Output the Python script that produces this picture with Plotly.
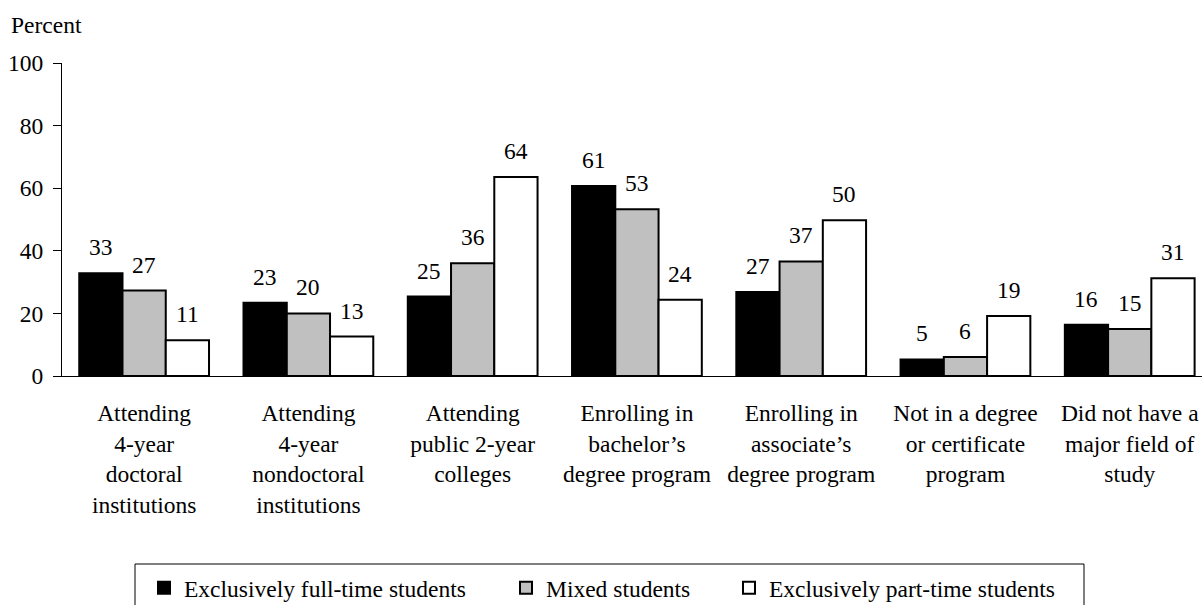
import plotly.graph_objects as go

categories = [
    "Attending<br>4-year<br>doctoral<br>institutions",
    "Attending<br>4-year<br>nondoctoral<br>institutions",
    "Attending<br>public 2-year<br>colleges",
    "Enrolling in<br>bachelor’s<br>degree program",
    "Enrolling in<br>associate’s<br>degree program",
    "Not in a degree<br>or certificate<br>program",
    "Did not have a<br>major field of<br>study",
]
series_names = [
    "Exclusively full-time students",
    "Mixed students",
    "Exclusively part-time students",
]
full_time = [32.8, 23.4, 25.4, 60.7, 26.8, 5.3, 16.4]
mixed = [27.3, 20.0, 36.0, 53.3, 36.6, 6.1, 15.0]
part_time = [11.4, 12.6, 63.6, 24.4, 49.8, 19.2, 31.2]
y_ticks = [0, 20, 40, 60, 80, 100]

FONT = "Liberation Serif, Times New Roman, serif"
FS = 23.5
colors = ["#000000", "#C0C0C0", "#FFFFFF"]
legend_widths = [317, 178, 300]
bargap = 0.21

W, H = 1202, 605
ML, MR, MT, MB = 62, 0, 63, 229
PW, PH = W - ML - MR, H - MT - MB

def px_x(px):
    return (px - ML) / PW

def px_y(py):
    return (H - MB - py) / PH

x_idx = list(range(len(categories)))
series = [full_time, mixed, part_time]

fig = go.Figure()
for name, vals, col, lw in zip(series_names, series, colors, legend_widths):
    fig.add_trace(go.Bar(
        x=x_idx, y=vals, name=name,
        marker=dict(color=col, line=dict(color="#000000", width=2)),
        legendwidth=lw,
        hoverinfo="skip",
    ))

bw = (1 - bargap) / len(series)
annotations = []
for j, vals in enumerate(series):
    for i, v in enumerate(vals):
        annotations.append(dict(
            x=i + (j - 1) * bw, y=v, xref="x", yref="y",
            text=f"{v:.0f}", showarrow=False,
            yanchor="middle", xanchor="center", yshift=26,
            font=dict(family=FONT, size=FS, color="#000000"),
        ))
annotations.append(dict(
    x=px_x(9), y=px_y(25), xref="paper", yref="paper", xanchor="left", yanchor="middle",
    text="Percent", showarrow=False,
    font=dict(family=FONT, size=FS, color="#000000"),
))

shapes = [dict(
    type="rect", xref="paper", yref="paper",
    x0=px_x(135), x1=px_x(1084), y0=px_y(564), y1=px_y(625),
    line=dict(color="#000000", width=1), fillcolor="rgba(0,0,0,0)", layer="below",
)]

fig.update_layout(
    width=W, height=H,
    margin=dict(l=ML, r=MR, t=MT, b=MB, pad=0, autoexpand=False),
    paper_bgcolor="#FFFFFF", plot_bgcolor="#FFFFFF",
    barmode="group", bargap=bargap, bargroupgap=0,
    font=dict(family=FONT, size=FS, color="#000000"),
    showlegend=True,
    legend=dict(
        orientation="h", x=px_x(144), xanchor="left", y=px_y(566), yanchor="top",
        borderwidth=0, bgcolor="rgba(0,0,0,0)",
        font=dict(family=FONT, size=FS, color="#000000"),
        entrywidthmode="pixels", traceorder="normal",
    ),
    annotations=annotations,
    shapes=shapes,
    xaxis=dict(
        range=[-0.5, 6.44], tickmode="array", tickvals=x_idx, ticktext=categories,
        showline=True, linecolor="#000000", linewidth=1, ticks="",
        showgrid=False, zeroline=False, tickangle=0, automargin=False,
        ticklabelstandoff=16,
        tickfont=dict(family=FONT, size=FS, color="#000000"),
        fixedrange=True,
    ),
    yaxis=dict(
        range=[0, 100], tickmode="array", tickvals=y_ticks,
        showline=True, linecolor="#000000", linewidth=1,
        ticks="outside", ticklen=8, tickcolor="#000000", tickwidth=1,
        showgrid=False, zeroline=False, automargin=False,
        ticklabelstandoff=5,
        tickfont=dict(family=FONT, size=FS, color="#000000"),
        fixedrange=True,
    ),
)

fig.write_html(
    "out.html",
    config={"displayModeBar": False, "staticPlot": True},
    post_script="document.body.style.margin='0';document.body.style.overflow='hidden';",
)
